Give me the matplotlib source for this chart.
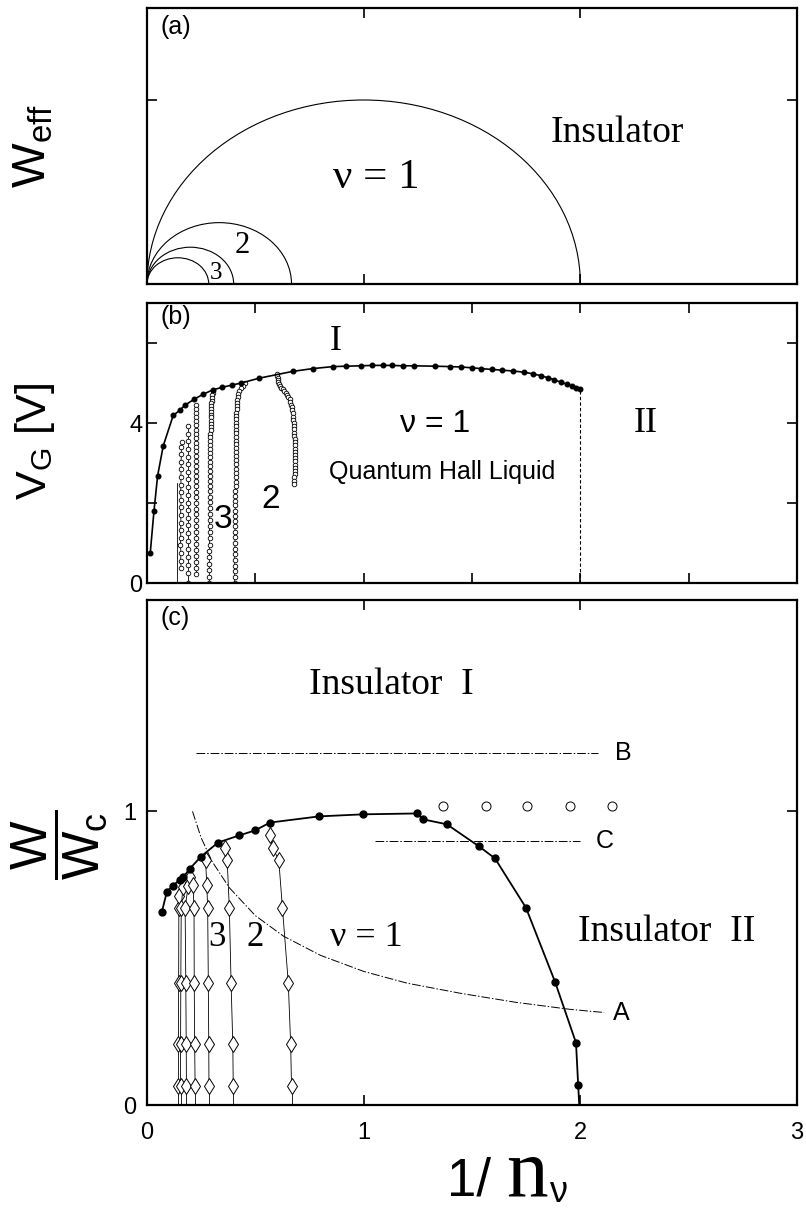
import matplotlib
matplotlib.use("Agg")
import matplotlib.pyplot as plt
from matplotlib import font_manager
from matplotlib.patches import Arc

installed = {f.name for f in font_manager.fontManager.ttflist}
NARROW = 'Liberation Sans Narrow' if 'Liberation Sans Narrow' in installed else 'Liberation Sans'
SERIF = 'Liberation Serif'
SANS = 'Liberation Sans'

plt.rcParams['mathtext.fontset'] = 'custom'
plt.rcParams['mathtext.rm'] = SANS
plt.rcParams['mathtext.it'] = SANS + ':italic'
plt.rcParams['mathtext.bf'] = SANS + ':bold'

# ---- (a) semicircle boundaries (diameter on the 1/n axis)
a_diam = [2.0, 0.667, 0.40, 0.285]

# ---- (b) phase boundary (filled) and nu>1 boundaries (open)
b_fill_x = [0.015, 0.032, 0.049, 0.075, 0.121, 0.152, 0.174, 0.219, 0.26, 0.304,
            0.346, 0.393, 0.436, 0.517, 0.672, 0.765, 0.858, 0.92, 0.986, 1.04,
            1.09, 1.13, 1.18, 1.23, 1.33, 1.40, 1.45, 1.50, 1.54, 1.59,
            1.64, 1.69, 1.74, 1.78, 1.82, 1.85, 1.88, 1.91, 1.94, 1.96,
            1.98, 2.0]
b_fill_y = [0.75, 1.79, 2.68, 3.43, 4.19, 4.32, 4.44, 4.6, 4.72, 4.83,
            4.89, 4.95, 5.0, 5.12, 5.29, 5.36, 5.41, 5.42, 5.43, 5.44,
            5.44, 5.44, 5.43, 5.43, 5.42, 5.41, 5.40, 5.38, 5.36, 5.34,
            5.32, 5.30, 5.27, 5.23, 5.18, 5.13, 5.08, 5.02, 4.97, 4.92,
            4.88, 4.84]

b_edge_x = [0.137, 0.137]
b_edge_y = [0.0, 2.5]

b_col1_x = [0.158, 0.155, 0.157, 0.154, 0.156, 0.155, 0.157, 0.155, 0.156, 0.158,
            0.155, 0.157, 0.156, 0.158, 0.157, 0.159, 0.158, 0.160]
b_col1_y = [0.37, 0.56, 0.75, 0.94, 1.13, 1.32, 1.51, 1.70, 1.89, 2.08,
            2.27, 2.46, 2.65, 2.84, 3.03, 3.22, 3.40, 3.53]
b_col2_x = 0.188
b_col2_y = [3.92, 3.73, 3.54, 3.35, 3.16, 2.97, 2.78, 2.59, 2.40, 2.20,
            2.01, 1.82, 1.63, 1.44, 1.24, 1.05, 0.86, 0.66, 0.45, 0.24, 0.0]
b_col3_x = 0.227
b_col3_y = [4.45, 4.35, 4.25, 4.15, 4.04, 3.94, 3.83, 3.72, 3.62, 3.51,
            3.40, 3.29, 3.17, 3.05, 2.92, 2.80, 2.67, 2.55, 2.42, 2.28,
            2.14, 2.00, 1.86, 1.72, 1.58, 1.43, 1.28, 1.13, 0.98, 0.83,
            0.68, 0.52, 0.37, 0.22]
b_col4_x = [0.303, 0.301, 0.299, 0.298, 0.297, 0.296, 0.296, 0.295, 0.295, 0.295,
            0.294, 0.294, 0.294, 0.294, 0.293, 0.293, 0.293, 0.293, 0.292, 0.292,
            0.292, 0.292, 0.291, 0.291, 0.291, 0.291, 0.291, 0.290, 0.290, 0.290,
            0.290, 0.290, 0.289, 0.289, 0.289, 0.289, 0.289, 0.288, 0.288, 0.288,
            0.288, 0.288, 0.288]
b_col4_y = [4.76, 4.70, 4.63, 4.56, 4.49, 4.42, 4.35, 4.28, 4.21, 4.14,
            4.06, 3.98, 3.90, 3.82, 3.73, 3.64, 3.55, 3.45, 3.35, 3.25,
            3.14, 3.03, 2.92, 2.80, 2.68, 2.56, 2.43, 2.30, 2.16, 2.02,
            1.88, 1.73, 1.58, 1.43, 1.28, 1.12, 0.96, 0.80, 0.64, 0.48,
            0.32, 0.16, 0.0]
b_col5_x = [0.450, 0.441, 0.433, 0.426, 0.421, 0.418, 0.416, 0.415, 0.414, 0.414,
            0.413, 0.413, 0.413, 0.412, 0.412, 0.412, 0.412, 0.411, 0.411, 0.411,
            0.411, 0.410, 0.410, 0.410, 0.410, 0.410, 0.409, 0.409, 0.409, 0.409,
            0.408, 0.408, 0.408, 0.408, 0.407, 0.407, 0.407, 0.407, 0.406, 0.406,
            0.406, 0.406, 0.405, 0.405, 0.405, 0.405, 0.405, 0.405]
b_col5_y = [4.99, 4.93, 4.87, 4.80, 4.73, 4.66, 4.58, 4.50, 4.42, 4.34,
            4.26, 4.18, 4.10, 4.01, 3.92, 3.83, 3.74, 3.65, 3.56, 3.47,
            3.37, 3.27, 3.17, 3.07, 2.97, 2.86, 2.75, 2.64, 2.53, 2.42,
            2.30, 2.18, 2.06, 1.94, 1.81, 1.68, 1.55, 1.42, 1.28, 1.14,
            1.00, 0.86, 0.72, 0.58, 0.43, 0.29, 0.14, 0.0]
b_col6_x = [0.600, 0.601, 0.603, 0.604, 0.606, 0.609, 0.613, 0.619, 0.626, 0.633,
            0.640, 0.647, 0.653, 0.658, 0.662, 0.666, 0.669, 0.671, 0.673, 0.675,
            0.676, 0.677, 0.678, 0.679, 0.680, 0.680, 0.681, 0.681, 0.682, 0.682,
            0.683, 0.683, 0.684, 0.684, 0.684, 0.683, 0.682, 0.681, 0.680, 0.679,
            0.678]
b_col6_y = [5.22, 5.17, 5.12, 5.07, 5.02, 4.97, 4.92, 4.88, 4.84, 4.80,
            4.75, 4.70, 4.65, 4.59, 4.53, 4.46, 4.39, 4.32, 4.24, 4.16,
            4.08, 4.00, 3.92, 3.84, 3.76, 3.68, 3.60, 3.52, 3.44, 3.36,
            3.28, 3.20, 3.12, 3.04, 2.96, 2.88, 2.80, 2.72, 2.64, 2.56,
            2.48]

# ---- (c) normalised phase diagram
c_fill_x = [0.069, 0.092, 0.12, 0.152, 0.166, 0.198, 0.249, 0.328, 0.425, 0.498,
            0.568, 0.794, 0.997, 1.246, 1.274, 1.384, 1.532, 1.606, 1.749, 1.883,
            1.98, 1.99]
c_fill_y = [0.659, 0.727, 0.747, 0.768, 0.775, 0.805, 0.846, 0.894, 0.918, 0.935,
            0.962, 0.983, 0.99, 0.993, 0.973, 0.956, 0.881, 0.84, 0.672, 0.42,
            0.212, 0.068]
c_fill_foot = 1.995

c_open_x = [1.366, 1.564, 1.754, 1.952, 2.146]
c_open_y = [1.017, 1.017, 1.017, 1.017, 1.017]

c_dia_foot = [0.145, 0.155, 0.182, 0.222, 0.286, 0.40, 0.667]
c_dia_x = [
    [0.145, 0.145, 0.146, 0.147, 0.148],
    [0.155, 0.155, 0.156, 0.158, 0.166],
    [0.182, 0.181, 0.179, 0.176, 0.190, 0.200],
    [0.222, 0.220, 0.218, 0.217, 0.212],
    [0.286, 0.285, 0.283, 0.280, 0.276, 0.270],
    [0.398, 0.396, 0.388, 0.380, 0.370, 0.362],
    [0.667, 0.663, 0.652, 0.625, 0.608, 0.580, 0.568],
]
c_dia_y = [
    [0.065, 0.208, 0.417, 0.672, 0.713],
    [0.065, 0.208, 0.417, 0.672, 0.744],
    [0.065, 0.208, 0.417, 0.672, 0.745, 0.778],
    [0.065, 0.208, 0.417, 0.672, 0.75],
    [0.065, 0.208, 0.417, 0.672, 0.75, 0.836],
    [0.065, 0.208, 0.417, 0.672, 0.833, 0.877],
    [0.065, 0.208, 0.417, 0.672, 0.836, 0.874, 0.918],
]

line_A_x = [0.21, 0.25, 0.30, 0.38, 0.50, 0.63, 0.80, 1.0, 1.2, 1.45, 1.7, 1.95, 2.11]
line_A_y = [1.0, 0.91, 0.83, 0.74, 0.645, 0.575, 0.51, 0.455, 0.415, 0.38, 0.35, 0.326, 0.315]
line_B_x = [0.225, 2.08]
line_B_y = [1.2, 1.2]
line_C_x = [1.05, 2.0]
line_C_y = [0.9, 0.9]

W, H = 806, 1217
fig = plt.figure(figsize=(W / 100, H / 100), dpi=100)
L, R = 147, 797


def add_ax(top, bottom):
    return fig.add_axes([L / W, 1 - bottom / H, (R - L) / W, (bottom - top) / H])


ax_a = add_ax(8, 284)
ax_b = add_ax(303, 583)
ax_c = add_ax(600, 1105)

for ax in (ax_a, ax_b, ax_c):
    ax.set_xlim(0, 3)
    for s in ax.spines.values():
        s.set_linewidth(1.6)
    ax.tick_params(direction='in', length=7, width=1.2, top=True, right=True,
                   labelsize=17)

dash_dot = (0, (9, 2, 1.5, 2))

# (a)
ax_a.set_ylim(0, 1.5)
for d in a_diam:
    ax_a.add_patch(Arc((d / 2, 0), d, d, theta1=0, theta2=180, lw=0.8, color='k'))
ax_a.set_xticks([0, 1, 2, 3])
ax_a.set_yticks([1])
ax_a.set_xticklabels([])
ax_a.set_yticklabels([])
ax_a.text(0.06, 1.46, '(a)', family=NARROW, fontsize=18, va='top', ha='left')
ax_a.text(2.17, 0.82, 'Insulator', family=SERIF, fontsize=27, ha='center', va='center')
ax_a.text(1.06, 0.58, 'ν = 1', family=SERIF, fontsize=31, ha='center', va='center')
ax_a.text(0.44, 0.21, '2', family=SERIF, fontsize=22, ha='center', va='center')
ax_a.text(0.32, 0.06, '3', family=SERIF, fontsize=18, ha='center', va='center')

# (b)
ax_b.set_ylim(0, 7)
ax_b.plot(b_edge_x, b_edge_y, color='k', lw=0.6)
open_kw = dict(color='k', lw=0.6, marker='o', ms=3.3, mfc='white', mec='k', mew=0.6)
ax_b.plot(b_col1_x, b_col1_y, **open_kw)
ax_b.plot([b_col2_x] * len(b_col2_y), b_col2_y, **open_kw)
ax_b.plot([b_col3_x] * len(b_col3_y), b_col3_y, **open_kw)
ax_b.plot(b_col4_x, b_col4_y, **open_kw)
ax_b.plot(b_col5_x, b_col5_y, **open_kw)
ax_b.plot(b_col6_x, b_col6_y, **open_kw)
ax_b.plot([b_fill_x[-1], b_fill_x[-1]], [0, b_fill_y[-1]], color='k', lw=0.8,
          ls=(0, (3, 2)))
ax_b.plot(b_fill_x, b_fill_y, color='k', lw=1.2, marker='o', ms=3.3)
ax_b.set_xticks([0, 0.5, 1, 1.5, 2, 2.5, 3])
ax_b.set_xticklabels([])
ax_b.set_yticks([0, 2, 4, 6])
ax_b.set_yticklabels(['0', '', '4', ''])
ax_b.text(0.06, 6.95, '(b)', family=NARROW, fontsize=18, va='top', ha='left')
ax_b.text(0.87, 6.05, 'I', family=SERIF, fontsize=26, ha='center', va='center')
ax_b.text(2.3, 4.0, 'II', family=SERIF, fontsize=26, ha='center', va='center')
ax_b.text(1.33, 3.98, 'ν = 1', family=NARROW, fontsize=23, ha='center', va='center')
ax_b.text(1.36, 2.77, 'Quantum Hall Liquid', family=NARROW, fontsize=18,
          ha='center', va='center')
ax_b.text(0.35, 1.6, '3', family=NARROW, fontsize=24, ha='center', va='center')
ax_b.text(0.57, 2.1, '2', family=NARROW, fontsize=24, ha='center', va='center')

# (c)
ax_c.set_ylim(0, 1.72)
for foot, xs, ys in zip(c_dia_foot, c_dia_x, c_dia_y):
    ax_c.plot([foot, xs[0]], [0, ys[0]], color='k', lw=0.6)
    ax_c.plot(xs, ys, color='k', lw=0.6, marker='d', ms=8, mfc='white', mec='k',
              mew=0.7)
ax_c.plot(line_A_x, line_A_y, color='k', lw=0.7, ls=dash_dot)
ax_c.plot(line_B_x, line_B_y, color='k', lw=0.7, ls=dash_dot)
ax_c.plot(line_C_x, line_C_y, color='k', lw=0.7, ls=dash_dot)
ax_c.plot([c_fill_x[-1], c_fill_foot], [c_fill_y[-1], 0], color='k', lw=1.3)
ax_c.plot(c_fill_x, c_fill_y, color='k', lw=1.3, marker='o', ms=5)
ax_c.plot(c_open_x, c_open_y, ls='none', marker='o', ms=6.5, mfc='white',
          mec='k', mew=0.7)
ax_c.set_xticks([0, 1, 2, 3])
ax_c.set_yticks([0, 1])
ax_c.set_yticklabels(['0', '1'])
ax_c.tick_params(axis='x', pad=12)
ax_c.tick_params(axis='y', pad=8)
ax_c.text(0.06, 1.70, '(c)', family=NARROW, fontsize=18, va='top', ha='left')
ax_c.text(1.13, 1.43, 'Insulator  I', family=SERIF, fontsize=27, ha='center', va='center')
ax_c.text(2.40, 0.59, 'Insulator  II', family=SERIF, fontsize=27, ha='center', va='center')
ax_c.text(1.01, 0.57, 'ν = 1', family=SERIF, fontsize=26, ha='center', va='center')
ax_c.text(0.325, 0.57, '3', family=SERIF, fontsize=25, ha='center', va='center')
ax_c.text(0.50, 0.57, '2', family=SERIF, fontsize=25, ha='center', va='center')
ax_c.text(line_B_x[-1] + 0.08, line_B_y[-1], 'B', family=NARROW, fontsize=18, va='center')
ax_c.text(line_C_x[-1] + 0.07, line_C_y[-1], 'C', family=NARROW, fontsize=18, va='center')
ax_c.text(line_A_x[-1] + 0.04, line_A_y[-1], 'A', family=NARROW, fontsize=18, va='center')

for ax in (ax_a, ax_b, ax_c):
    for lbl in ax.get_xticklabels() + ax.get_yticklabels():
        lbl.set_fontfamily(NARROW)
        lbl.set_fontsize(17)

# axis titles
fig.text(33 / W, 1 - 146 / H, r'$\mathrm{W}_{\mathrm{eff}}$', rotation=90,
         ha='center', va='center', fontsize=34)
fig.text(35 / W, 1 - 441 / H, r'$\mathrm{V}_{\mathrm{G}}\ [\mathrm{V}]$', rotation=90,
         ha='center', va='center', fontsize=31)
fig.text(59 / W, 1 - 845 / H, r'$\dfrac{\mathrm{W}}{\mathrm{W}_{\mathrm{c}}}$',
         rotation=90, ha='center', va='center', fontsize=37)
fig.text(447 / W, 1 - 1196 / H, '1/', family=NARROW, fontsize=38, va='baseline')
fig.text(506 / W, 1 - 1196 / H, 'n', family=SERIF, fontsize=60, va='baseline')
fig.text(549 / W, 1 - 1202 / H, 'ν', family=NARROW, fontsize=26, va='baseline')

fig.savefig('out.png', dpi=100)
